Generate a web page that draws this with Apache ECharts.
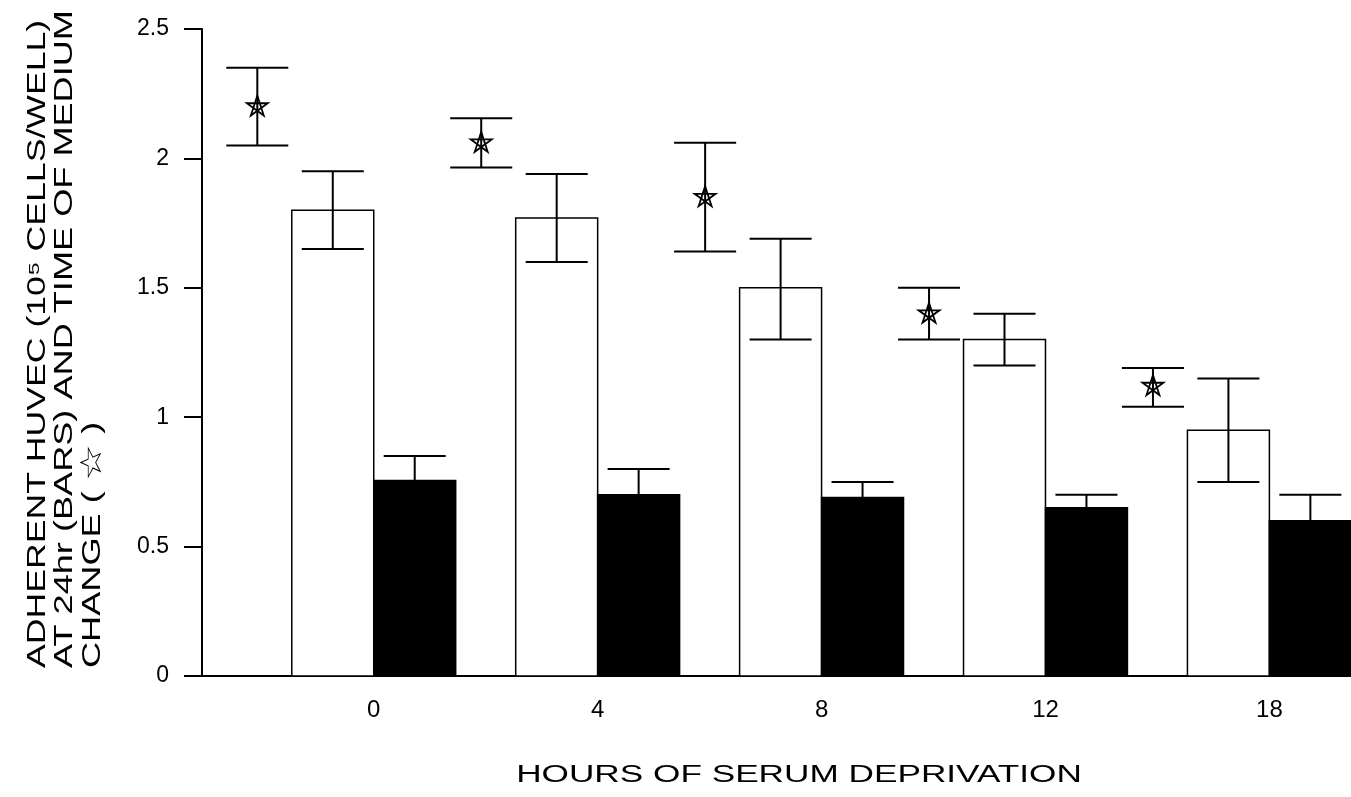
<!DOCTYPE html>
<html>
<head>
<meta charset="utf-8">
<title>Adherent HUVEC vs hours of serum deprivation</title>
<script src="https://cdn.jsdelivr.net/npm/echarts@6.0.0/dist/echarts.min.js"></script>
<style>
  html, body { margin: 0; padding: 0; background: #fff; }
  #chart { width: 1351px; height: 797px; }
</style>
</head>
<body>
<div id="chart"></div>
<script>
// hours of serum deprivation (one group per category)
const hours = ['0', '4', '8', '12', '18'];

// white bars: mean and error limits
const whiteMean = [1.80, 1.77, 1.50, 1.30, 0.95];
const whiteLo = [1.65, 1.60, 1.30, 1.20, 0.75];
const whiteHi = [1.95, 1.94, 1.69, 1.40, 1.15];

// black bars: mean and upper error limit
const blackMean = [0.755, 0.70, 0.69, 0.65, 0.60];
const blackHi = [0.85, 0.80, 0.75, 0.70, 0.70];

// time of medium change (stars)
const starMean = [2.20, 2.06, 1.85, 1.40, 1.12];
const starLo = [2.05, 1.965, 1.64, 1.30, 1.04];
const starHi = [2.35, 2.155, 2.06, 1.50, 1.19];

const FONT = '"Liberation Sans", Arial, Helvetica, sans-serif';
const BAR_W = 0.366;     // bar width, in group units
const CAP_W = 0.277;     // error cap width, in group units
const STAR_OFF = -0.52;  // star position relative to group centre

const chart = echarts.init(document.getElementById('chart'));

function errorBar(x, yLo, yHi, cap) {
  return [
    { type: 'line', shape: { x1: x, y1: yLo, x2: x, y2: yHi }, style: { stroke: '#000', lineWidth: 2 } },
    { type: 'line', shape: { x1: x - cap, y1: yHi, x2: x + cap, y2: yHi }, style: { stroke: '#000', lineWidth: 2 } },
    { type: 'line', shape: { x1: x - cap, y1: yLo, x2: x + cap, y2: yLo }, style: { stroke: '#000', lineWidth: 2 } },
  ];
}

function barRender(side) {
  return function (params, api) {
    const i = api.value(0);
    const mean = api.value(1);
    const lo = api.value(2);
    const hi = api.value(3);
    const unit = api.size([1, 0])[0];
    const bw = BAR_W * unit;
    const base = api.coord([i, 0]);
    const top = api.coord([i, mean])[1];
    const x0 = side === 'white' ? base[0] - bw : base[0];
    const mid = x0 + bw / 2;
    const cap = (CAP_W * unit) / 2;
    const children = [
      {
        type: 'rect',
        shape: { x: x0, y: top, width: bw, height: base[1] - top },
        style: { fill: side === 'white' ? '#fff' : '#000', stroke: '#000', lineWidth: 1.5 },
      },
    ];
    const yHi = api.coord([i, hi])[1];
    const yLo = api.coord([i, lo])[1];
    if (side === 'white') {
      children.push(...errorBar(mid, yLo, yHi, cap));
    } else {
      children.push(
        { type: 'line', shape: { x1: mid, y1: top, x2: mid, y2: yHi }, style: { stroke: '#000', lineWidth: 2 } },
        { type: 'line', shape: { x1: mid - cap, y1: yHi, x2: mid + cap, y2: yHi }, style: { stroke: '#000', lineWidth: 2 } }
      );
    }
    return { type: 'group', children: children };
  };
}

function starRender(params, api) {
  const i = api.value(0);
  const unit = api.size([1, 0])[0];
  const p = api.coord([i + STAR_OFF, api.value(1)]);
  const yLo = api.coord([i, api.value(2)])[1];
  const yHi = api.coord([i, api.value(3)])[1];
  const cap = (CAP_W * unit) / 2;
  const r = 11;
  const pts = [];
  [0, 2, 4, 1, 3].forEach(function (k) {
    const a = -Math.PI / 2 + (k * 2 * Math.PI) / 5;
    pts.push([p[0] + r * Math.cos(a), p[1] + r * Math.sin(a)]);
  });
  const children = errorBar(p[0], yLo, yHi, cap);
  children.push({
    type: 'polygon',
    shape: { points: pts },
    style: { fill: 'none', stroke: '#000', lineWidth: 1.8 },
  });
  return { type: 'group', children: children };
}

const idx = hours.map((h, i) => i);

const options = {
  backgroundColor: '#fff',
  animation: false,
  grid: { left: 187, right: 1, top: 29, bottom: 121, containLabel: false },
  xAxis: {
    type: 'value',
    min: -0.834,
    max: 4.36,
    splitLine: { show: false },
    axisTick: { show: false },
    axisLine: { lineStyle: { color: '#000', width: 2 } },
    axisLabel: {
      customValues: idx,
      formatter: (v) => hours[Math.round(v)],
      color: '#000',
      fontFamily: FONT,
      fontSize: 24,
      margin: 22,
    },
  },
  yAxis: {
    type: 'value',
    min: 0,
    max: 2.5,
    interval: 0.5,
    offset: -15,
    splitLine: { show: false },
    axisLine: { show: true, onZero: false, lineStyle: { color: '#000', width: 2 } },
    axisTick: { show: true, length: 18, lineStyle: { color: '#000', width: 2 } },
    axisLabel: { color: '#000', fontFamily: FONT, fontSize: 23, margin: 33 },
  },
  graphic: [
    {
      type: 'text',
      x: 799,
      y: 776,
      scaleX: 1.53,
      style: {
        text: 'HOURS OF SERUM DEPRIVATION',
        font: '23px ' + FONT,
        fill: '#000',
        align: 'center',
        verticalAlign: 'middle',
      },
    },
    {
      type: 'text',
      x: 38,
      y: 668,
      rotation: Math.PI / 2,
      scaleX: 1.37,
      style: {
        text: 'ADHERENT HUVEC (10⁵ CELLS/WELL)',
        font: '26px ' + FONT,
        fill: '#000',
        align: 'left',
        verticalAlign: 'middle',
      },
    },
    {
      type: 'text',
      x: 65,
      y: 668,
      rotation: Math.PI / 2,
      scaleX: 1.39,
      style: {
        text: 'AT 24hr (BARS) AND TIME OF MEDIUM',
        font: '26px ' + FONT,
        fill: '#000',
        align: 'left',
        verticalAlign: 'middle',
      },
    },
    {
      type: 'text',
      x: 93,
      y: 668,
      rotation: Math.PI / 2,
      scaleX: 1.39,
      style: {
        text: 'CHANGE ( {s|☆} )',
        font: '26px ' + FONT,
        fill: '#000',
        align: 'left',
        verticalAlign: 'middle',
        rich: {
          s: { fontSize: 30, fontFamily: '"DejaVu Sans", sans-serif', fontWeight: 'bold', fill: '#000' },
        },
      },
    },
  ],
  series: [
    {
      name: 'white',
      type: 'custom',
      renderItem: barRender('white'),
      data: idx.map((i) => [i, whiteMean[i], whiteLo[i], whiteHi[i]]),
    },
    {
      name: 'black',
      type: 'custom',
      renderItem: barRender('black'),
      data: idx.map((i) => [i, blackMean[i], blackMean[i], blackHi[i]]),
    },
    {
      name: 'medium change',
      type: 'custom',
      renderItem: starRender,
      data: idx.map((i) => [i, starMean[i], starLo[i], starHi[i]]),
    },
  ],
};

chart.setOption(options);
</script>
</body>
</html>
